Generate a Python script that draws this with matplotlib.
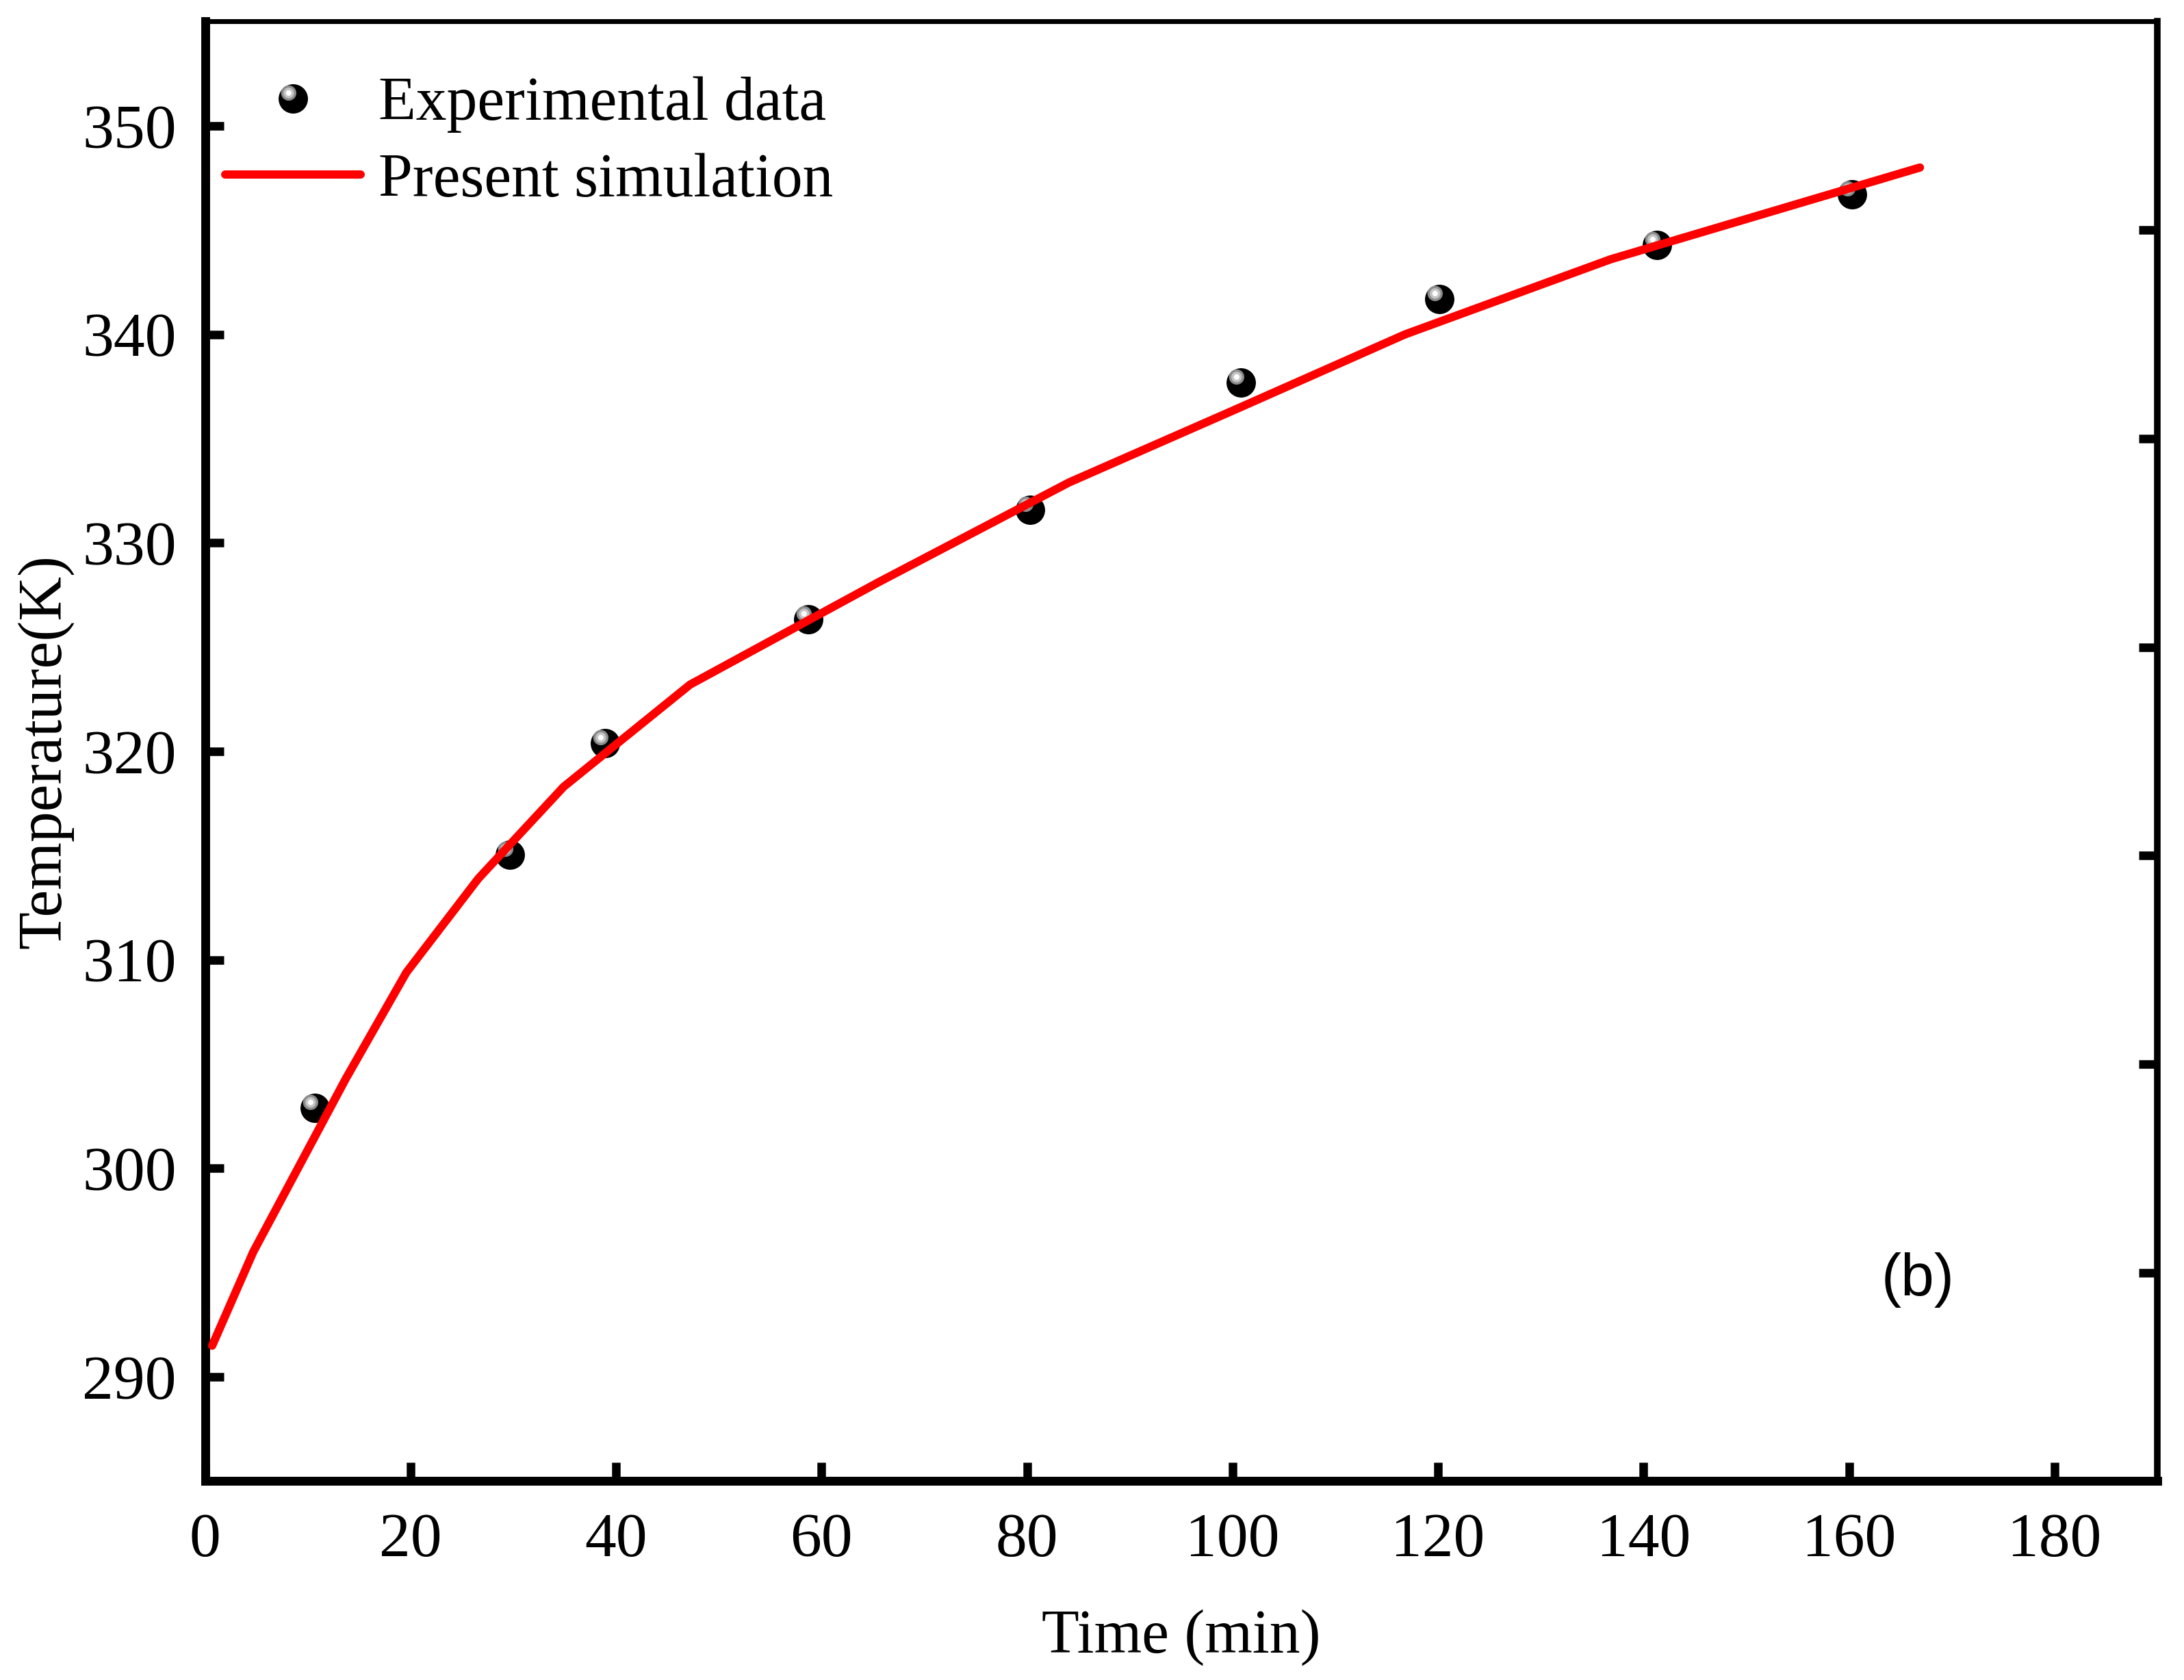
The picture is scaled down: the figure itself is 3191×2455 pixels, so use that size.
#!/usr/bin/env python3
"""
Temperature vs time: experimental data against present simulation, panel (b)
"""

import numpy as np
import matplotlib
matplotlib.use("Agg")
import matplotlib.pyplot as plt
from matplotlib.path import Path
from matplotlib.ticker import FixedLocator
from matplotlib.legend_handler import HandlerTuple

# simulation curve (min, K)
sim_time = [0.7, 4.7, 13.7, 19.6, 26.6, 34.9, 47.2, 65.5, 84.1, 100.3, 116.8, 136.8, 166.9]
sim_temp = [291.5, 296.0, 304.3, 309.4, 313.9, 318.3, 323.2, 328.1, 332.9, 336.4, 340.0, 343.6, 348.0]

# experimental points (min, K)
exp_time = [10.7, 29.7, 38.9, 58.7, 80.3, 100.8, 120.1, 141.3, 160.3]
exp_temp = [302.9, 315.05, 320.4, 326.35, 331.6, 337.7, 341.7, 344.3, 346.7]

x_ticks = [0, 20, 40, 60, 80, 100, 120, 140, 160, 180]
y_ticks = [290, 300, 310, 320, 330, 340, 350]
y_right_ticks = [295, 305, 315, 325, 335, 345]

plt.rcParams['font.family'] = ['Liberation Serif', 'DejaVu Serif']


def highlight_marker(cx, cy, r):
    """Off-centre circle marker, in units of the ball radius (padded to +-1)"""
    circ = Path.circle((cx, cy), r)
    pad_v = np.array([[1, 0], [-1, 0], [0, 1], [0, -1]], dtype=float)
    verts = np.concatenate([pad_v, circ.vertices])
    codes = np.concatenate([[Path.MOVETO] * 4, circ.codes])
    return Path(verts, codes)


def ball_handles(ax, x, y, ms):
    """Draw shaded 'sphere' markers as stacked layers, return the layers"""
    layers = []
    base = ax.plot(x, y, linestyle='none', marker='o', ms=ms,
                   mfc='black', mec='black', mew=0, zorder=3)[0]
    layers.append(base)
    for r, col in [(0.52, '#8c8c8c'), (0.36, '#c4c4c4'), (0.19, 'white')]:
        m = highlight_marker(-0.31, 0.40, r)
        ln = ax.plot(x, y, linestyle='none', marker=m, ms=ms,
                     mfc=col, mec=col, mew=0, zorder=3)[0]
        layers.append(ln)
    return tuple(layers)


def main():
    fig = plt.figure(figsize=(3191 / 300, 2455 / 300), dpi=300)
    ax = fig.add_axes([0.09386, 0.11833, 0.98778 - 0.09386, 0.98717 - 0.11833])

    balls = ball_handles(ax, exp_time, exp_temp, 10.3)
    sim_line, = ax.plot(sim_time, sim_temp, color='#ff0000', lw=2.9,
                        solid_capstyle='round', solid_joinstyle='round', zorder=4)

    ax.set_xlim(0, 190)
    ax.set_ylim(285, 355)
    ax.set_xticks(x_ticks)
    ax.set_yticks(y_ticks)
    ax.yaxis.set_minor_locator(FixedLocator(y_right_ticks))

    ax.tick_params(axis='both', which='major', direction='in', length=6.5, width=3,
                   labelsize=22, top=False, right=False)
    ax.tick_params(axis='x', which='major', pad=11)
    ax.tick_params(axis='y', which='major', pad=10)
    ax.tick_params(axis='y', which='minor', direction='in', length=6.5, width=3,
                   left=False, right=True, labelleft=False)

    ax.spines['left'].set_linewidth(3.1)
    ax.spines['bottom'].set_linewidth(3.1)
    ax.spines['top'].set_linewidth(1.7)
    ax.spines['right'].set_linewidth(2.3)

    ax.set_xlabel('Time (min)', fontsize=21.5, labelpad=14)
    ax.set_ylabel('Temperature(K)', fontsize=21.5, labelpad=3)

    ax.legend([balls, sim_line], ['Experimental data', 'Present simulation'],
              handler_map={tuple: HandlerTuple(ndivide=1)},
              loc='upper left', bbox_to_anchor=(0.0103, 0.9623),
              frameon=False, borderpad=0, borderaxespad=0,
              fontsize=21.5, handlelength=2.21, handletextpad=0.29,
              labelspacing=0.32)

    ax.text(166.7, 294.65, '(b)', fontsize=21, ha='center', va='center',
            family=['Liberation Sans', 'DejaVu Sans'])

    fig.savefig('out.png', dpi=300)


if __name__ == "__main__":
    main()
